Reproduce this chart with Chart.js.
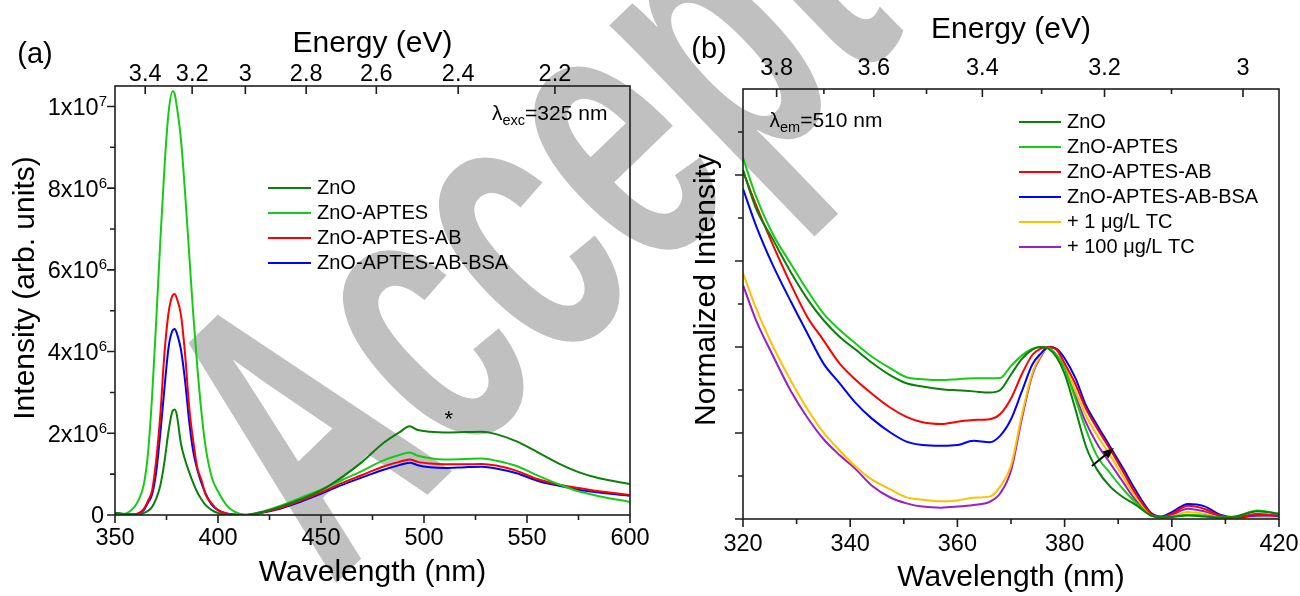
<!DOCTYPE html>
<html><head><meta charset="utf-8">
<script src="https://cdn.jsdelivr.net/npm/chart.js@4.4.1/dist/chart.umd.min.js"></script>
<style>
html,body{margin:0;padding:0;background:#fff;}
#wrap{position:relative;width:1300px;height:596px;overflow:hidden;background:#fff;}
canvas{position:absolute;top:0;}
#wm{left:0;}
#ca{left:0;}
#cb{left:650px;}
</style></head><body>
<div id="wrap">
<canvas id="wm" width="1300" height="596"></canvas>
<canvas id="ca" width="650" height="596"></canvas>
<canvas id="cb" width="650" height="596"></canvas>
</div>
<script>
// ---------------- DATA ----------------
const HC = 1239.84; // eV*nm
// Panel (a): PL emission, intensity in units of 10^6
const seriesNamesA = ['ZnO', 'ZnO-APTES', 'ZnO-APTES-AB', 'ZnO-APTES-AB-BSA'];
const wavelengthA = [350, 354, 358, 361, 364, 366, 368, 370, 372, 374,
  376, 378, 379, 380, 382, 384, 386, 388, 390, 392,
  394, 397, 400, 404, 408, 413, 420, 430, 440, 450,
  460, 470, 480, 488, 493, 497, 503, 510, 520, 528,
  535, 545, 555, 565, 575, 585, 600];
const znoA = [0.05, 0.03, 0.01, 0.01, 0.05, 0.1, 0.2, 0.4, 0.72, 1.3,
  2.05, 2.55, 2.58, 2.45, 1.75, 1.35, 1.05, 0.78, 0.55, 0.38,
  0.24, 0.12, 0.05, 0.01, 0, 0, 0.06, 0.2, 0.38, 0.6,
  0.92, 1.3, 1.75, 2.02, 2.17, 2.08, 2.04, 2.02, 2.03, 2.04,
  1.98, 1.8, 1.54, 1.27, 1.05, 0.9, 0.76];
const aptesA = [0.04, 0.02, 0.12, 0.32, 0.75, 1.5, 2.9, 4.75, 6.7, 8.5,
  9.85, 10.37, 10.3, 10.0, 9.2, 7.9, 6.4, 4.9, 3.6, 2.5,
  1.66, 0.92, 0.58, 0.25, 0.08, 0.01, 0.06, 0.22, 0.42, 0.62,
  0.85, 1.08, 1.33, 1.47, 1.53, 1.45, 1.39, 1.36, 1.37, 1.38,
  1.33, 1.2, 0.97, 0.76, 0.58, 0.46, 0.32];
const abA = [0.04, 0.02, 0.01, 0.03, 0.15, 0.35, 0.6, 1.35, 2.45, 3.95,
  4.95, 5.38, 5.41, 5.3, 4.9, 3.95, 2.65, 1.8, 1.15, 0.85,
  0.5, 0.28, 0.12, 0.04, 0.01, 0, 0.05, 0.17, 0.35, 0.55,
  0.78, 0.98, 1.18, 1.3, 1.36, 1.3, 1.26, 1.24, 1.24, 1.25,
  1.21, 1.08, 0.88, 0.75, 0.66, 0.58, 0.49];
const bsaA = [0.05, 0.02, 0.01, 0.03, 0.12, 0.3, 0.5, 1.05, 2.0, 3.1,
  4.1, 4.52, 4.55, 4.45, 4.05, 3.29, 2.3, 1.55, 1.1, 0.78,
  0.52, 0.25, 0.12, 0.04, 0.01, 0, 0.04, 0.15, 0.32, 0.52,
  0.73, 0.92, 1.1, 1.22, 1.28, 1.22, 1.17, 1.15, 1.17, 1.18,
  1.14, 1.02, 0.84, 0.72, 0.62, 0.55, 0.47];
const xTicksA = [350, 400, 450, 500, 550, 600];
const xMinorA = [375, 425, 475, 525, 575];
const yTicksA = [0, 2, 4, 6, 8, 10];
const yTickMainA = ['0', '2x10', '4x10', '6x10', '8x10', '1x10'];
const yTickExpA = ['', '6', '6', '6', '6', '7'];
const yMinorA = [1, 3, 5, 7, 9];
const energyTicksA = [3.4, 3.2, 3, 2.8, 2.6, 2.4, 2.2];
const starA = {x: 512, y: 2.44};

// Panel (b): PL excitation, normalized
const seriesNamesB = ['ZnO', 'ZnO-APTES', 'ZnO-APTES-AB', 'ZnO-APTES-AB-BSA', '+ 1 \u03bcg/L TC', '+ 100 \u03bcg/L TC'];
const wavelengthB = [320, 322.5, 325.5, 329, 332, 335, 338, 341, 344, 347.5,
  350.5, 353.5, 357, 360, 363, 366, 368, 370, 372, 374,
  375.5, 377, 378.5, 380, 382, 384, 386, 388.5, 391, 393,
  396, 398, 400, 403, 406, 409, 412, 416, 420];
const znoB = [2.03, 1.80, 1.63, 1.43, 1.28, 1.157, 1.06, 0.985, 0.91, 0.835,
  0.789, 0.77, 0.755, 0.748, 0.742, 0.735, 0.75, 0.84, 0.93, 0.985,
  1.0, 0.99, 0.94, 0.845, 0.64, 0.42, 0.29, 0.188, 0.125, 0.088,
  0.022, 0.01, 0.012, 0.02, 0.015, 0.008, 0.015, 0.045, 0.03];
const aptesB = [2.10, 1.87, 1.66, 1.48, 1.33, 1.195, 1.10, 1.02, 0.945, 0.876,
  0.824, 0.813, 0.808, 0.813, 0.818, 0.818, 0.82, 0.89, 0.95, 0.99,
  1.0, 0.995, 0.955, 0.875, 0.70, 0.52, 0.37, 0.266, 0.17, 0.105,
  0.023, 0.012, 0.015, 0.025, 0.02, 0.01, 0.015, 0.05, 0.03];
const abB = [2.02, 1.82, 1.60, 1.36, 1.175, 1.04, 0.905, 0.81, 0.73, 0.647,
  0.594, 0.562, 0.552, 0.566, 0.576, 0.58, 0.61, 0.70, 0.84, 0.955,
  0.99, 1.0, 0.985, 0.905, 0.785, 0.64, 0.53, 0.405, 0.27, 0.16,
  0.035, 0.012, 0.03, 0.077, 0.06, 0.02, 0.01, 0.025, 0.02];
const bsaB = [1.92, 1.70, 1.48, 1.26, 1.08, 0.905, 0.79, 0.675, 0.585, 0.503,
  0.45, 0.43, 0.426, 0.43, 0.455, 0.446, 0.485, 0.58, 0.74, 0.9,
  0.96, 1.0, 0.99, 0.935, 0.82, 0.66, 0.55, 0.42, 0.29, 0.18,
  0.04, 0.015, 0.04, 0.087, 0.075, 0.025, 0.01, 0.02, 0.02];
const tc1B = [1.43, 1.22, 1.01, 0.80, 0.64, 0.504, 0.40, 0.305, 0.23, 0.172,
  0.126, 0.112, 0.103, 0.108, 0.124, 0.13, 0.19, 0.31, 0.6, 0.85,
  0.95, 1.0, 0.985, 0.89, 0.745, 0.60, 0.49, 0.37, 0.24, 0.14,
  0.03, 0.008, 0.015, 0.04, 0.03, 0.01, 0.005, 0.01, 0.005];
const tc100B = [1.36, 1.15, 0.955, 0.74, 0.59, 0.465, 0.372, 0.29, 0.195, 0.125,
  0.091, 0.072, 0.066, 0.072, 0.082, 0.10, 0.15, 0.28, 0.58, 0.84,
  0.94, 1.0, 0.985, 0.885, 0.72, 0.56, 0.44, 0.324, 0.21, 0.12,
  0.025, 0.01, 0.025, 0.06, 0.045, 0.015, 0.01, 0.03, 0.015];
const xTicksB = [320, 340, 360, 380, 400, 420];
const xMinorB = [330, 350, 370, 390, 410];
const yTicksB = [0, 0.5, 1, 1.5, 2];
const yMinorB = [0.25, 0.75, 1.25, 1.75, 2.25];
const energyTicksB = [3.8, 3.6, 3.4, 3.2, 3];
const energyMinorB = [3.7, 3.5, 3.3, 3.1];
const arrowB = {x0: 385.1, y0: 0.308, x1: 389.2, y1: 0.413};

// ---------------- STYLE ----------------
const FONT = '"Liberation Sans", Arial, Helvetica, sans-serif';
const colorsA = ['#0a800a', '#14cc14', '#ff0000', '#0000ff'];
const colorsB = ['#0a800a', '#14cc14', '#ff0000', '#0000ff', '#ffc000', '#9a1ecb'];
Chart.defaults.font.family = FONT;
Chart.defaults.color = '#000';

function pts(xs, ys) { return xs.map((x, i) => ({x: x, y: ys[i]})); }
function fmtE(v) { return String(Math.round(v * 10) / 10); }

function drawTicks(ctx, scale, values, len, side, a) {
  ctx.beginPath();
  for (const v of values) {
    const p = scale.getPixelForValue(v);
    if (side === 'bottom') { ctx.moveTo(p, a.bottom); ctx.lineTo(p, a.bottom + len); }
    else if (side === 'top') { ctx.moveTo(p, a.top); ctx.lineTo(p, a.top + len); }
    else { ctx.moveTo(a.left - len, p); ctx.lineTo(a.left, p); }
  }
  ctx.stroke();
}
function drawLegend(ctx, chart, x0, x1, xt, y0, dy, size) {
  chart.data.datasets.forEach((ds, i) => {
    const yy = y0 + dy * i;
    ctx.strokeStyle = ds.borderColor; ctx.lineWidth = 2.2;
    ctx.beginPath(); ctx.moveTo(x0, yy); ctx.lineTo(x1, yy); ctx.stroke();
    ctx.fillStyle = '#000'; ctx.font = size + 'px ' + FONT;
    ctx.textBaseline = 'middle'; ctx.textAlign = 'left';
    ctx.fillText(ds.label, xt, yy);
  });
}
function drawSubLabel(ctx, x, base, main, sub, tail, size, subSize) {
  ctx.textBaseline = 'alphabetic'; ctx.textAlign = 'left'; ctx.fillStyle = '#000';
  ctx.font = size + 'px ' + FONT; ctx.fillText(main, x, base); x += ctx.measureText(main).width;
  ctx.font = subSize + 'px ' + FONT; ctx.fillText(sub, x, base + 5); x += ctx.measureText(sub).width;
  ctx.font = size + 'px ' + FONT; ctx.fillText(tail, x, base);
}
function drawRotTitle(ctx, text, cx, cy, size) {
  ctx.save();
  ctx.translate(cx, cy); ctx.rotate(-Math.PI / 2);
  ctx.font = size + 'px ' + FONT; ctx.fillStyle = '#000';
  ctx.textAlign = 'center'; ctx.textBaseline = 'middle';
  ctx.fillText(text, 0, 0);
  ctx.restore();
}
function fixSize(prop, val) {
  return s => { s[prop] = val; s.paddingLeft = 0; s.paddingRight = 0; s.paddingTop = 0; s.paddingBottom = 0; };
}

const tickFont = {family: FONT, size: 23.5, lineHeight: 1};
const titleFont = {family: FONT, size: 30, lineHeight: 1.2};
const AXIS = '#1e1e1e';

function baseOptions(padRight) {
  return {
    responsive: false, animation: false, events: [],
    layout: {padding: {left: 0, right: padRight, top: 0, bottom: 0}},
    plugins: {legend: {display: false}, tooltip: {enabled: false}},
    elements: {point: {radius: 0}, line: {borderWidth: 2, cubicInterpolationMode: 'monotone'}}
  };
}

// ---------------- PANEL (a) ----------------
const decorA = {
  id: 'decorA',
  afterDraw(chart) {
    const {ctx, chartArea: a, scales} = chart;
    ctx.save();
    ctx.strokeStyle = AXIS; ctx.lineWidth = 1.6;
    drawTicks(ctx, scales.x, xTicksA, 8, 'bottom', a);
    drawTicks(ctx, scales.x, xMinorA, 5, 'bottom', a);
    drawTicks(ctx, scales.y, yTicksA, 8, 'left', a);
    drawTicks(ctx, scales.y, yMinorA, 5, 'left', a);
    drawTicks(ctx, scales.xTop, energyTicksA.map(e => HC / e), 8, 'top', a);
    ctx.strokeRect(a.left, a.top, a.right - a.left, a.bottom - a.top);
    // y tick labels with superscripts
    ctx.fillStyle = '#000'; ctx.textBaseline = 'alphabetic'; ctx.textAlign = 'left';
    yTicksA.forEach((v, i) => {
      const py = scales.y.getPixelForValue(v);
      const base = py + 8.4;
      ctx.font = '23.5px ' + FONT;
      const w1 = ctx.measureText(yTickMainA[i]).width;
      ctx.font = '15px ' + FONT;
      const w2 = yTickExpA[i] ? ctx.measureText(yTickExpA[i]).width : 0;
      const right = yTickExpA[i] ? a.left - 8 : a.left - 11;
      const x0 = right - w1 - w2;
      ctx.font = '23.5px ' + FONT; ctx.fillText(yTickMainA[i], x0, base);
      if (yTickExpA[i]) { ctx.font = '15px ' + FONT; ctx.fillText(yTickExpA[i], x0 + w1, base - 9); }
    });
    drawRotTitle(ctx, 'Intensity (arb. units)', 26, 288, 30);
    drawLegend(ctx, chart, 268, 311, 317, 188, 25, 20);
    drawSubLabel(ctx, 492, 120, '\u03bb', 'exc', '=325 nm', 21, 14.5);
    // asterisk
    ctx.font = '22px ' + FONT; ctx.textAlign = 'center'; ctx.textBaseline = 'middle'; ctx.fillStyle = '#000';
    ctx.fillText('*', scales.x.getPixelForValue(starA.x), scales.y.getPixelForValue(starA.y) + 5);
    // panel letter
    ctx.font = '29px ' + FONT; ctx.textAlign = 'center';
    ctx.fillText('(a)', 35, 55);
    ctx.restore();
  }
};

const dataA = [znoA, aptesA, abA, bsaA];
new Chart(document.getElementById('ca'), {
  type: 'line',
  data: {datasets: seriesNamesA.map((n, i) => ({label: n, data: pts(wavelengthA, dataA[i]), borderColor: colorsA[i], fill: false}))},
  options: Object.assign(baseOptions(20), {
    scales: {
      x: {type: 'linear', position: 'bottom', min: 350, max: 600,
        afterBuildTicks: ax => { ax.ticks = xTicksA.map(v => ({value: v})); },
        ticks: {autoSkip: false, maxRotation: 0, padding: 12, font: tickFont, color: '#000', callback: v => String(v)},
        grid: {display: false, drawTicks: false}, border: {display: false},
        title: {display: true, text: 'Wavelength (nm)', font: titleFont, color: '#000', padding: {top: 0, bottom: 5}},
        afterFit: fixSize('height', 81)},
      xTop: {type: 'linear', position: 'top', min: 350, max: 600,
        afterBuildTicks: ax => { ax.ticks = energyTicksA.map(e => ({value: HC / e})); },
        ticks: {autoSkip: false, maxRotation: 0, padding: 0, font: tickFont, color: '#000', callback: v => fmtE(HC / v)},
        grid: {display: false, drawTicks: false}, border: {display: false},
        title: {display: true, text: 'Energy (eV)', font: titleFont, color: '#000', padding: {top: 26, bottom: 0}},
        afterFit: fixSize('height', 86)},
      y: {type: 'linear', min: 0, max: 10.5,
        ticks: {display: false}, grid: {display: false, drawTicks: false}, border: {display: false},
        afterFit: fixSize('width', 115)}
    }
  }),
  plugins: [decorA]
});

// ---------------- PANEL (b) ----------------
const decorB = {
  id: 'decorB',
  afterDraw(chart) {
    const {ctx, chartArea: a, scales} = chart;
    ctx.save();
    ctx.strokeStyle = AXIS; ctx.lineWidth = 1.6;
    drawTicks(ctx, scales.x, xTicksB, 8, 'bottom', a);
    drawTicks(ctx, scales.x, xMinorB, 5, 'bottom', a);
    drawTicks(ctx, scales.y, yTicksB, 8, 'left', a);
    drawTicks(ctx, scales.y, yMinorB, 5, 'left', a);
    drawTicks(ctx, scales.xTop, energyTicksB.map(e => HC / e), 8, 'top', a);
    drawTicks(ctx, scales.xTop, energyMinorB.map(e => HC / e), 5, 'top', a);
    ctx.strokeRect(a.left, a.top, a.right - a.left, a.bottom - a.top);
    drawRotTitle(ctx, 'Normalized Intensity', 57, 290, 30);
    drawLegend(ctx, chart, 369, 411, 417, 122, 25, 20);
    drawSubLabel(ctx, 119.5, 127, '\u03bb', 'em', '=510 nm', 21, 14.5);
    // arrow
    const x0 = scales.x.getPixelForValue(arrowB.x0), y0 = scales.y.getPixelForValue(arrowB.y0);
    const x1 = scales.x.getPixelForValue(arrowB.x1), y1 = scales.y.getPixelForValue(arrowB.y1);
    const ang = Math.atan2(y1 - y0, x1 - x0);
    ctx.strokeStyle = '#000'; ctx.fillStyle = '#000'; ctx.lineWidth = 2;
    ctx.beginPath(); ctx.moveTo(x0, y0);
    ctx.lineTo(x1 - 8 * Math.cos(ang), y1 - 8 * Math.sin(ang)); ctx.stroke();
    ctx.beginPath();
    ctx.moveTo(x1, y1);
    ctx.lineTo(x1 - 11 * Math.cos(ang) + 4.5 * Math.sin(ang), y1 - 11 * Math.sin(ang) - 4.5 * Math.cos(ang));
    ctx.lineTo(x1 - 11 * Math.cos(ang) - 4.5 * Math.sin(ang), y1 - 11 * Math.sin(ang) + 4.5 * Math.cos(ang));
    ctx.closePath(); ctx.fill();
    ctx.font = '29px ' + FONT; ctx.textAlign = 'center'; ctx.textBaseline = 'middle'; ctx.fillStyle = '#000';
    ctx.fillText('(b)', 59, 50);
    ctx.restore();
  }
};

const dataB = [znoB, aptesB, abB, bsaB, tc1B, tc100B];
new Chart(document.getElementById('cb'), {
  type: 'line',
  data: {datasets: seriesNamesB.map((n, i) => ({label: n, data: pts(wavelengthB, dataB[i]), borderColor: colorsB[i], fill: false}))},
  options: Object.assign(baseOptions(21), {
    scales: {
      x: {type: 'linear', position: 'bottom', min: 320, max: 420,
        afterBuildTicks: ax => { ax.ticks = xTicksB.map(v => ({value: v})); },
        ticks: {autoSkip: false, maxRotation: 0, padding: 14, font: tickFont, color: '#000', callback: v => String(v)},
        grid: {display: false, drawTicks: false}, border: {display: false},
        title: {display: true, text: 'Wavelength (nm)', font: titleFont, color: '#000', padding: {top: 0, bottom: 0}},
        afterFit: fixSize('height', 77)},
      xTop: {type: 'linear', position: 'top', min: 320, max: 420,
        afterBuildTicks: ax => { ax.ticks = energyTicksB.map(e => ({value: HC / e})); },
        ticks: {autoSkip: false, maxRotation: 0, padding: 9, font: tickFont, color: '#000', callback: v => fmtE(HC / v)},
        grid: {display: false, drawTicks: false}, border: {display: false},
        title: {display: true, text: 'Energy (eV)', font: titleFont, color: '#000', padding: {top: 12, bottom: 0}},
        afterFit: fixSize('height', 89)},
      y: {type: 'linear', min: 0, max: 2.5,
        ticks: {display: false}, grid: {display: false, drawTicks: false}, border: {display: false},
        afterFit: fixSize('width', 93)}
    }
  }),
  plugins: [decorB]
});

// ---------------- WATERMARK ----------------
(function () {
  const c = document.getElementById('wm').getContext('2d');
  c.save();
  c.translate(332, 587);
  c.rotate(-44 * Math.PI / 180);
  c.scale(0.6, 1);
  c.fillStyle = '#c0c0c0';
  c.font = 'bold 400px ' + FONT;
  c.textBaseline = 'alphabetic';
  c.fillText('Accepted', 0, 0);
  c.restore();
})();
</script>
</body></html>
